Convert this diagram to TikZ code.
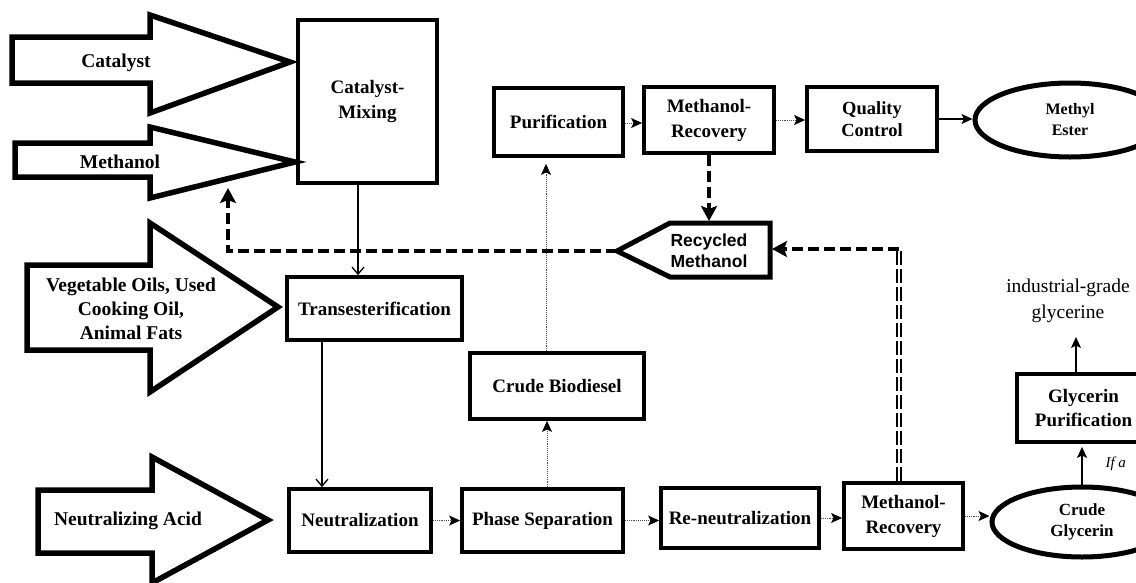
\documentclass[tikz,border=0pt]{standalone}
\usepackage{fontspec}
\setmainfont{Liberation Serif}
\newfontfamily\arialfont{Liberation Sans}
\usetikzlibrary{arrows.meta,shapes.geometric,calc}
\begin{document}
\begin{tikzpicture}[x=1pt,y=-1pt,
  procbox/.style={draw,line width=3.8pt,inner sep=0pt,align=center,font=\fontsize{19}{25}\selectfont\bfseries},
  ellbox/.style={ellipse,draw,line width=5pt,inner sep=0pt,align=center,font=\fontsize{16}{21}\selectfont\bfseries},
  bigarr/.style={draw,line width=5.5pt,line join=miter,miter limit=20},
  arrtxt/.style={align=center,font=\fontsize{19.5}{24}\selectfont\bfseries},
  dotcon/.style={densely dotted,line width=0.9pt,draw=black!70,-{Stealth[length=11pt,width=10pt,inset=2.5pt,color=black]}},
  solcon/.style={line width=1.2pt,-{Stealth[length=11pt,width=10pt,inset=2.5pt]}},
  vcon/.style={line width=1.3pt,-{Straight Barb[length=7pt,width=12pt,line width=1.3pt]}},
  thickdash/.style={line width=3.8pt,dash pattern=on 11pt off 5pt,-{Stealth[length=15pt,width=16pt,inset=3pt]}},
  dbldash/.style={double,double distance=2pt,line width=1.7pt,dash pattern=on 14pt off 4pt}
]
\useasboundingbox (0,0) rectangle (1136,582);
\clip (0,0) rectangle (1136,582);

% big input arrows
\draw[bigarr] (12,37) -- (150,37) -- (150,15) -- (290,62) -- (150,113) -- (150,83) -- (12,83) -- cycle;
\node[arrtxt] (tcat) at (116,63) {Catalyst};
\draw[bigarr] (15,143) -- (150,143) -- (150,127) -- (295,162) -- (150,198) -- (150,177) -- (15,177) -- cycle;
\node[arrtxt] (tmeth) at (120,162) {Methanol};
\draw[bigarr] (27,265) -- (150,265) -- (150,223) -- (278,307) -- (150,392) -- (150,350) -- (27,350) -- cycle;
\node[arrtxt] (tveg) at (131,309) {Vegetable Oils, Used\\Cooking Oil,\\Animal Fats};
\draw[bigarr] (38,490) -- (152,490) -- (152,457) -- (268,520) -- (152,583) -- (152,553) -- (38,553) -- cycle;
\node[arrtxt] (tacid) at (128,521) {Neutralizing Acid};

% process boxes
\node[procbox,minimum width=139pt,minimum height=163pt] (cm) at (367.5,101.5) {Catalyst-\\Mixing};
\node[procbox,minimum width=175pt,minimum height=63pt] (trans) at (374.5,308.5) {Transesterification};
\node[procbox,minimum width=142pt,minimum height=63pt] (neut) at (360,520.5) {Neutralization};
\node[procbox,minimum width=161pt,minimum height=63pt] (ps) at (542.5,520.5) {Phase Separation};
\node[procbox,minimum width=158pt,minimum height=60pt] (rn) at (740,518) {Re-neutralization};
\node[procbox,minimum width=119pt,minimum height=66pt] (mr2) at (903.5,516) {Methanol-\\Recovery};
\node[procbox,minimum width=174pt,minimum height=66pt] (cb) at (557,386) {Crude Biodiesel};
\node[procbox,minimum width=129pt,minimum height=68pt] (pur) at (558.5,122) {Purification};
\node[procbox,minimum width=130pt,minimum height=66pt] (mr1) at (709,120) {Methanol-\\Recovery};
\node[procbox,minimum width=130pt,minimum height=64pt,font=\fontsize{18.5}{22}\selectfont\bfseries] (qc) at (872,119) {Quality\\Control};
\node[ellbox,minimum width=190pt,minimum height=74pt] (me) at (1070,120) {Methyl\\Ester};
\node[ellbox,minimum width=180pt,minimum height=70pt,font=\fontsize{17}{21}\selectfont\bfseries] (cg) at (1082,522) {Crude\\Glycerin};
\node[procbox,minimum width=133pt,minimum height=68pt,font=\fontsize{19}{24}\selectfont\bfseries] (gp) at (1083.5,408) {Glycerin\\Purification};
\node[align=center,font=\fontsize{19.5}{26}\selectfont] (glyc) at (1068,301) {industrial-grade\\glycerine};
\node[anchor=west,font=\fontsize{15}{18}\selectfont\itshape] (ifa) at (1102,464) {If a};

% recycled methanol tag
\draw[line width=5pt,line join=miter,miter limit=20] (770,223) -- (770,277) -- (670,277) -- (617,251) -- (670,223) -- cycle;
\node[align=center,font=\fontsize{17.5}{21}\selectfont\arialfont\bfseries] (rm) at (709,251) {Recycled\\Methanol};
\coordinate (rmtip) at (617,251);
\coordinate (rmeast) at (772,251);
\coordinate (rmtop) at (709,221);
\coordinate (retcorner) at (228,251);
\coordinate (rettip) at (228,188);
\coordinate (upcorner) at (899,249);
\coordinate (glyctip) at (1076,337);

% connectors
\draw[vcon] ([xshift=-9.5pt]cm.south) -- ([xshift=-9.5pt]cm.south |- trans.north);
\draw[vcon] ([xshift=-52.5pt]trans.south) -- ([xshift=-52.5pt]trans.south |- neut.north);
\draw[dotcon] (neut.east) -- (ps.west);
\draw[dotcon] (ps.east) -- (ps.east -| rn.west);
\draw[dotcon] (rn.east) -- (rn.east -| mr2.west);
\draw[dotcon] (mr2.east) -- (mr2.east -| cg.west);
\draw[dotcon] ([xshift=4.5pt]ps.north) -- ([xshift=4.5pt]ps.north |- cb.south);
\draw[dotcon,shorten >=6pt] ([xshift=-11pt]cb.north) -- ([xshift=-11pt]cb.north |- pur.south);
\draw[dotcon] ([yshift=-1pt]pur.east) -- ([yshift=-1pt]pur.east -| mr1.west);
\draw[dotcon] (mr1.east) -- (mr1.east -| qc.west);
\draw[solcon] (qc.east) -- (qc.east -| me.west);
\draw[thickdash] (mr1.south) -- (rmtop);
\draw[thickdash] (rmtip) -- (retcorner) -- (rettip);
\draw[dbldash] ([xshift=-4.5pt]mr2.north) -- (upcorner);
\draw[thickdash] (upcorner) -- (upcorner -| rmeast);
\draw[solcon,shorten >=3pt] (cg.north) -- (cg.north |- gp.south);
\draw[solcon] ([xshift=-7.5pt]gp.north) -- (glyctip);
\end{tikzpicture}
\end{document}
